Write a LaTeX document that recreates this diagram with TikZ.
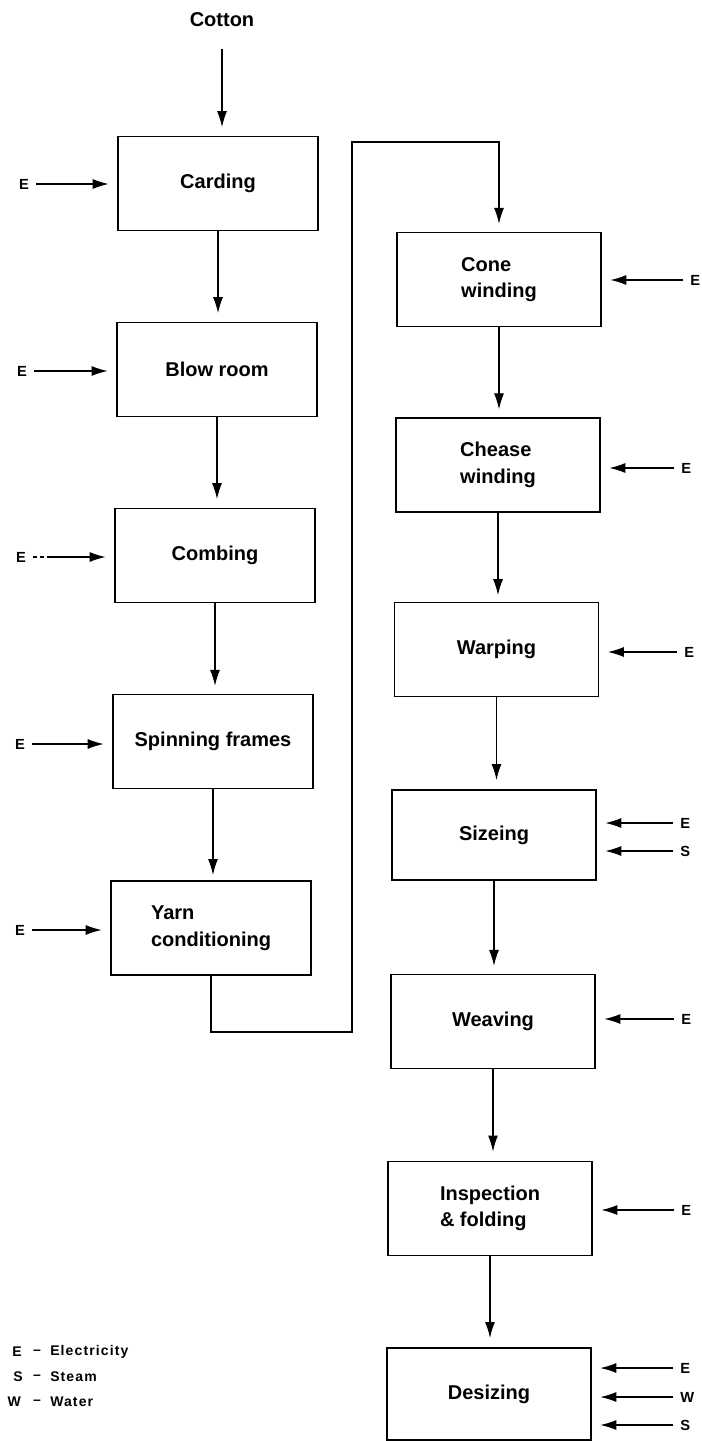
\documentclass[tikz,border=0pt]{standalone}
\usepackage{fontspec}
\setmainfont{Liberation Sans}
\usetikzlibrary{arrows.meta}
\begin{document}
\begin{tikzpicture}[x=0.75pt,y=-0.75pt,
  stage/.style={draw, line width=1pt, minimum height=70.5pt, align=left,
    font=\bfseries\fontsize{15}{20}\selectfont, inner sep=0pt},
  leftstage/.style={stage, minimum width=150pt},
  rightstage/.style={stage, minimum width=153pt},
  flow/.style={line width=0.9pt, -{Latex[length=12pt,width=7.5pt]}},
  feed/.style={flow, shorten <=5pt, shorten >=6.5pt},
  supply/.style={font=\bfseries\fontsize{11}{13}\selectfont, inner sep=0pt},
  key/.style={font=\bfseries\fontsize{10.5}{12}\selectfont\addfontfeatures{LetterSpace=8}, inner sep=0pt}]

\useasboundingbox (0,0) rectangle (701,1441);

% raw material
\node[font=\bfseries\fontsize{15}{18}\selectfont, inner sep=0pt] (cotton) at (222,20) {Cotton};

% spinning line (left column)
\node[leftstage] (carding)  at (218,183.5) {Carding};
\node[leftstage] (blow)     at (217,369.5) {Blow room};
\node[leftstage] (combing)  at (215,555.5) {Combing};
\node[leftstage] (spinning) at (213,741.5) {Spinning frames};
\node[leftstage] (yarn)     at (211,928)   {Yarn\\conditioning};

% weaving line (right column)
\node[rightstage] (cone)       at (499,279.5)  {Cone\\winding};
\node[rightstage] (chease)     at (498,465)    {Chease\\winding};
\node[rightstage] (warping)    at (496.5,649.5){Warping};
\node[rightstage, minimum height=67.5pt] (sizeing) at (494,835) {Sizeing};
\node[rightstage] (weaving)    at (493,1021.5) {Weaving};
\node[rightstage] (inspection) at (490,1208.5) {Inspection\\\& folding};
\node[rightstage, minimum height=69pt] (desizing) at (489,1394) {Desizing};

% material flow
\draw[flow, shorten <=16pt, shorten >=6.5pt] (cotton.south) -- (cotton.south |- carding.north);
\draw[flow, shorten >=6.5pt] (carding.south)  -- (carding.south |- blow.north);
\draw[flow, shorten >=6.5pt] (blow.south)     -- (blow.south |- combing.north);
\draw[flow, shorten >=6pt]   (combing.south)  -- (combing.south |- spinning.north);
\draw[flow, shorten >=4pt]   (spinning.south) -- (spinning.south |- yarn.north);

\coordinate (loopA) at (352,1032);
\coordinate (loopB) at (352,142);
\draw[flow, shorten >=6pt] (yarn.south) |- (loopA) -- (loopB) -| (cone.north);

\draw[flow, shorten >=6pt] (cone.south)       -- (cone.south |- chease.north);
\draw[flow, shorten >=5pt] (chease.south)     -- (chease.south |- warping.north);
\draw[flow, shorten >=7pt] (warping.south)    -- (warping.south |- sizeing.north);
\draw[flow, shorten >=6pt] (sizeing.south)    -- (sizeing.south |- weaving.north);
\draw[flow, shorten >=7pt] (weaving.south)    -- (weaving.south |- inspection.north);
\draw[flow, shorten >=7pt] (inspection.south) -- (inspection.south |- desizing.north);

% energy inputs, left column
\node[supply] (eCard) at (24,184) {E};
\draw[feed] (eCard.east) -- (eCard.east -| carding.west);
\node[supply] (eBlow) at (22,371) {E};
\draw[feed] (eBlow.east) -- (eBlow.east -| blow.west);
\node[supply] (eComb) at (21,557) {E};
\draw[feed, dash pattern=on 3pt off 2.5pt on 3pt off 2pt on 60pt] (eComb.east) -- (eComb.east -| combing.west);
\node[supply] (eSpin) at (20,744) {E};
\draw[feed] (eSpin.east) -- (eSpin.east -| spinning.west);
\node[supply] (eYarn) at (20,930) {E};
\draw[feed] (eYarn.east) -- (eYarn.east -| yarn.west);

% energy inputs, right column
\node[supply, anchor=west] (eCone) at (690,280) {E};
\draw[feed] (eCone.west) -- (eCone.west -| cone.east);
\node[supply, anchor=west] (eChea) at (681,468) {E};
\draw[feed] (eChea.west) -- (eChea.west -| chease.east);
\node[supply, anchor=west] (eWarp) at (684,652) {E};
\draw[feed] (eWarp.west) -- (eWarp.west -| warping.east);
\node[supply, anchor=west] (eSize) at (680,823) {E};
\draw[feed] (eSize.west) -- (eSize.west -| sizeing.east);
\node[supply, anchor=west] (sSize) at (680,851) {S};
\draw[feed] (sSize.west) -- (sSize.west -| sizeing.east);
\node[supply, anchor=west] (eWeav) at (681,1019) {E};
\draw[feed] (eWeav.west) -- (eWeav.west -| weaving.east);
\node[supply, anchor=west] (eInsp) at (681,1210) {E};
\draw[feed] (eInsp.west) -- (eInsp.west -| inspection.east);
\node[supply, anchor=west] (eDesz) at (680,1368) {E};
\draw[feed] (eDesz.west) -- (eDesz.west -| desizing.east);
\node[supply, anchor=west] (wDesz) at (680,1397) {W};
\draw[feed] (wDesz.west) -- (wDesz.west -| desizing.east);
\node[supply, anchor=west] (sDesz) at (680,1425) {S};
\draw[feed] (sDesz.west) -- (sDesz.west -| desizing.east);

% key
\node[key, anchor=east] (kE) at (22,1352) {E};
\node[key] (kEd) at (37,1352) {–};
\node[key, anchor=west] (kEt) at (50,1352) {Electricity};
\node[key, anchor=east] (kS) at (23,1377) {S};
\node[key] (kSd) at (37,1377) {–};
\node[key, anchor=west] (kSt) at (50,1377) {Steam};
\node[key, anchor=east] (kW) at (21,1402) {W};
\node[key] (kWd) at (37,1402) {–};
\node[key, anchor=west] (kWt) at (50,1402) {Water};
\end{tikzpicture}
\end{document}
